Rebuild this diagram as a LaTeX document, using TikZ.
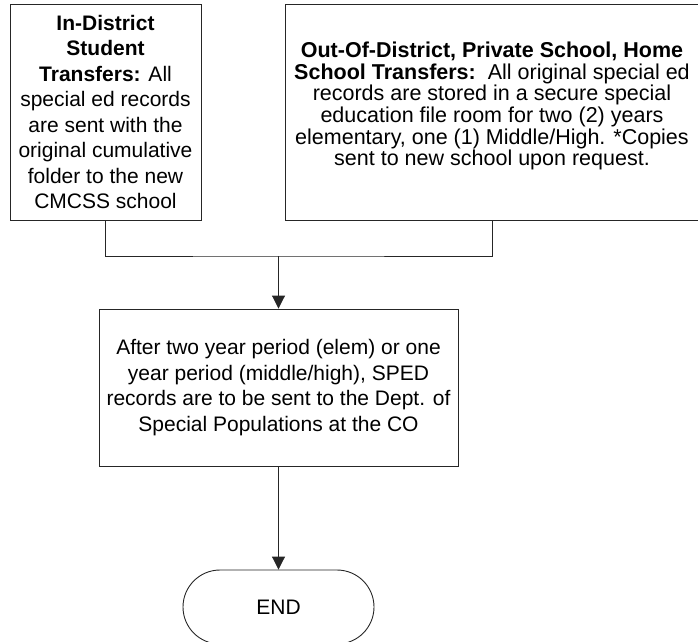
\documentclass[tikz,border=0pt]{standalone}
\usepackage{fontspec}
\setmainfont{Liberation Sans}
\usetikzlibrary{arrows.meta}
\begin{document}
\begin{tikzpicture}[x=1pt,y=-1pt,
  box/.style={draw=black!85,line width=0.9pt,rectangle,inner sep=0pt,align=center,
    font=\fontsize{21}{25.5}\selectfont},
  plain/.style={inner sep=0pt,align=center,font=\fontsize{21.5}{21.7}\selectfont},
  conn/.style={draw=black!85,line width=0.9pt},
  arr/.style={conn,-{Triangle[width=13pt,length=13pt]}}]
\useasboundingbox (0,0) rectangle (698,641);
\node[box,minimum width=191pt,minimum height=216pt] (b1) at (105.5,112)
  {\textbf{In-District}\\\textbf{Student}\\\textbf{Transfers:} All\\special ed records\\are sent with the\\original cumulative\\folder to the new\\CMCSS school};
\node[box,minimum width=414pt,minimum height=216pt] (b2) at (492,112) {};
\node[plain] (t2) at (492,106)
  {\textbf{Out-Of-District, Private School, Home}\\\textbf{School Transfers:}\ \ All original special ed\\records are stored in a secure special\\education file room for two (2) years\\elementary, one (1) Middle/High. *Copies\\sent to new school upon request.};
\node[box,minimum width=359pt,minimum height=157pt] (b3) at (278.5,387.5)
  {After two year period (elem) or one\\year period (middle/high), SPED\\records are to be sent to the Dept. of\\Special Populations at the CO};
\node[box,rounded corners=37pt,minimum width=191pt,minimum height=74pt] (end) at (278.5,607) {END};
\coordinate (j) at (278.5,256);
\draw[conn] (b1.south) |- (j) -| (b2.south);
\draw[arr] (j) -- (b3.north);
\draw[arr] (b3.south) -- (end.north);
\end{tikzpicture}
\end{document}
